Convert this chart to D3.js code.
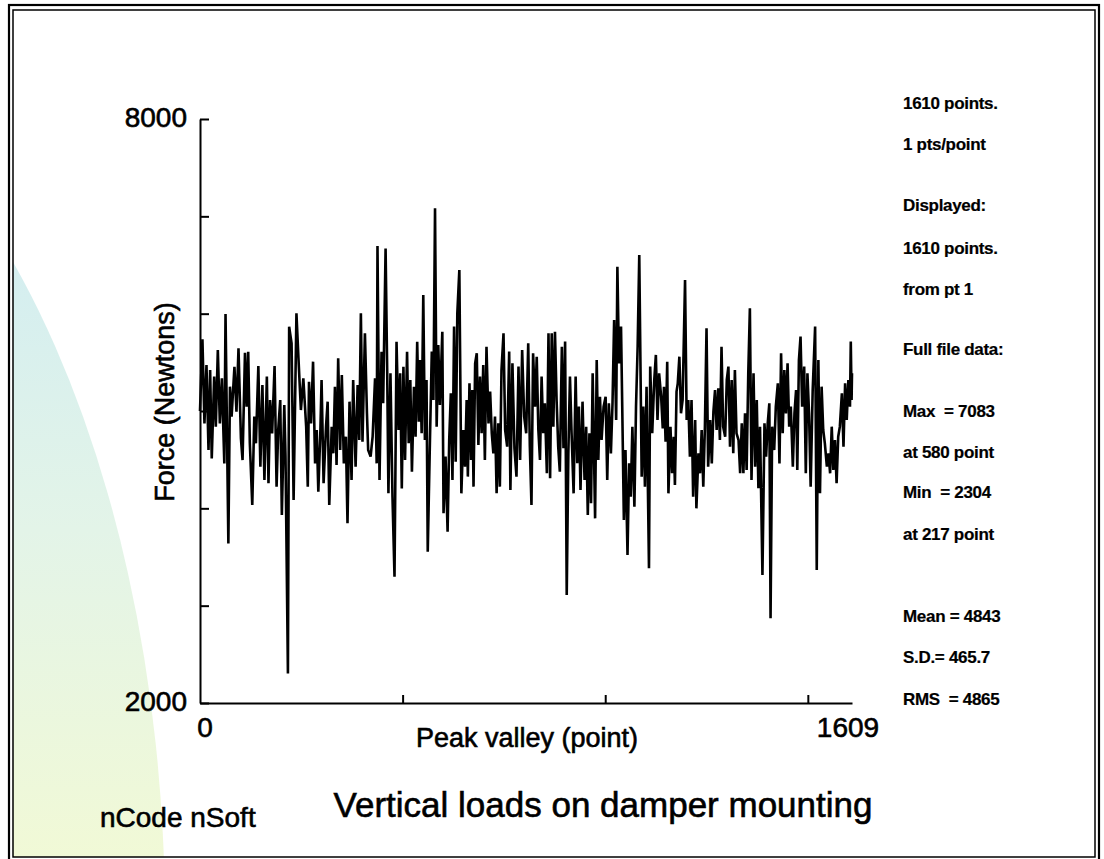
<!DOCTYPE html>
<html>
<head>
<meta charset="UTF-8">
<title>Vertical loads on damper mounting</title>
<script src="https://d3js.org/d3.v7.min.js"></script>
<style>
    body { margin: 0; background: #fff; }
    svg text { font-family: "Liberation Sans", Arial, sans-serif; fill: #000; stroke: #000; stroke-width: 0.6px; }
    .axis path, .axis line { fill: none; stroke: #000; stroke-width: 2; }
    .info text { font-size: 17px; font-weight: bold; letter-spacing: -0.3px; white-space: pre; stroke-width: 0.2px; }
</style>
</head>
<body>
<script>
// peak-valley turning points: point number and force (N)
var pointNo = [0, 6, 11, 16, 21, 25, 29, 35, 39, 44, 49, 54, 60, 63, 70, 74, 78, 85, 90, 95,
    101, 105, 111, 115, 119, 123, 129, 134, 138, 144, 149, 154, 159, 165, 169, 173, 178, 184, 189, 193,
    198, 202, 208, 211, 217, 220, 226, 231, 238, 243, 249, 255, 262, 266, 269, 274, 279, 284, 288, 292,
    297, 300, 305, 311, 315, 319, 325, 329, 333, 337, 341, 346, 350, 355, 360, 364, 369, 374, 378, 384,
    389, 393, 397, 401, 407, 412, 415, 421, 426, 432, 436, 438, 443, 448, 452, 458, 462, 465, 470, 475,
    480, 485, 490, 494, 498, 502, 506, 511, 515, 519, 523, 528, 532, 536, 540, 543, 547, 551, 555, 559,
    562, 568, 572, 576, 580, 584, 588, 592, 598, 601, 606, 611, 615, 619, 623, 627, 631, 635, 640, 645,
    650, 654, 658, 661, 665, 669, 672, 675, 679, 683, 687, 691, 695, 699, 703, 707, 712, 716, 720, 724,
    728, 732, 736, 740, 744, 749, 753, 758, 763, 766, 771, 776, 781, 786, 790, 795, 800, 805, 810, 814,
    818, 822, 827, 831, 835, 839, 843, 847, 851, 856, 860, 864, 868, 872, 876, 880, 884, 888, 893, 897,
    901, 905, 909, 913, 917, 922, 927, 931, 935, 939, 944, 949, 953, 957, 961, 965, 969, 975, 979, 983,
    987, 991, 996, 1001, 1005, 1009, 1014, 1018, 1022, 1027, 1030, 1034, 1039, 1042, 1046, 1050, 1055, 1059, 1063, 1067,
    1072, 1076, 1080, 1084, 1090, 1094, 1098, 1102, 1108, 1111, 1116, 1121, 1125, 1129, 1133, 1138, 1142, 1145, 1149, 1153,
    1156, 1161, 1165, 1169, 1172, 1176, 1179, 1183, 1187, 1191, 1197, 1201, 1205, 1209, 1213, 1217, 1222, 1225, 1230, 1234,
    1238, 1242, 1246, 1250, 1254, 1259, 1263, 1267, 1271, 1275, 1279, 1283, 1287, 1291, 1296, 1300, 1304, 1308, 1312, 1316,
    1320, 1324, 1329, 1333, 1337, 1341, 1345, 1349, 1353, 1357, 1361, 1366, 1370, 1374, 1378, 1382, 1388, 1393, 1397, 1401,
    1405, 1408, 1412, 1417, 1421, 1426, 1430, 1434, 1438, 1442, 1446, 1450, 1454, 1458, 1463, 1467, 1471, 1474, 1478, 1482,
    1486, 1491, 1495, 1499, 1503, 1507, 1512, 1518, 1522, 1526, 1530, 1534, 1538, 1542, 1547, 1551, 1555, 1559, 1563, 1567,
    1571, 1575, 1579, 1584, 1588, 1592, 1596, 1600, 1604, 1606, 1608, 1609];

var force = [5000, 5736, 4873, 5472, 4599, 5421, 4513, 5353, 4839, 5627, 4873, 5335, 4462, 5996, 3640, 5250, 4942, 5455, 4993, 5644,
    4719, 4496, 5599, 5044, 5609, 4668, 4034, 4942, 4668, 5462, 4428, 5267, 4291, 5353, 4257, 5113, 4770, 5462, 4222, 4805,
    5113, 3931, 5061, 4531, 2304, 5866, 5695, 4085, 6003, 5541, 5010, 5335, 4839, 4222, 5301, 4873, 5507, 4462, 4805, 4171,
    4787, 5318, 4257, 4839, 5096, 4034, 4839, 4565, 5250, 4445, 5541, 4599, 5370, 4462, 4736, 3846, 5096, 4291, 5318, 4428,
    5267, 4702, 6003, 4685, 5798, 4976, 4599, 4531, 4736, 5335, 4462, 6695, 4291, 5609, 5079, 6670, 5387, 4154, 5387, 4120,
    3298, 5712, 4805, 5387, 4205, 5455, 4496, 5609, 4668, 5318, 4377, 5250, 4736, 5712, 4890, 5524, 4771, 6192, 4702, 5319,
    3555, 4805, 5610, 5113, 7083, 4839, 5678, 5062, 5815, 3949, 4531, 3760, 4702, 5182, 4291, 5867, 4480, 6004, 6449, 4154,
    4805, 4428, 5113, 4326, 5284, 4497, 5216, 4223, 5490, 5593, 4651, 5353, 4771, 5473, 4497, 5661, 4873, 5199, 4771, 4565,
    4942, 4154, 4873, 4223, 5421, 5798, 4805, 4634, 5610, 4189, 5490, 4617, 4326, 5456, 4497, 5627, 4942, 4771, 5695, 4634,
    4034, 5593, 5045, 5558, 4805, 4497, 5353, 4771, 5079, 4360, 5798, 4308, 5798, 4839, 5815, 5113, 4634, 4377, 5661, 4617,
    5713, 3110, 4565, 5353, 4771, 4154, 5353, 4463, 5045, 4189, 5096, 4291, 4839, 3932, 4771, 4052, 5387, 3897, 5524, 4497,
    5147, 4702, 5045, 5147, 4291, 5079, 4565, 5079, 5935, 4908, 6483, 5490, 5867, 5045, 3880, 4600, 3521, 4463, 4120, 4839,
    4017, 5045, 5661, 6603, 4325, 5045, 4223, 5250, 3384, 5456, 4771, 5319, 5576, 4908, 5387, 5147, 4822, 5250, 4685, 5507,
    4154, 4839, 4360, 4736, 4240, 5199, 5284, 5558, 4976, 5113, 6346, 4908, 5113, 4531, 5113, 4120, 4908, 4000, 4565, 4360,
    4805, 4223, 4839, 5849, 4428, 4908, 4462, 4993, 5216, 4805, 5233, 4702, 5661, 4839, 4736, 5319, 5456, 4634, 5319, 4565,
    5421, 4771, 4702, 4360, 4873, 4360, 4976, 4394, 5387, 6055, 4291, 5387, 4428, 5113, 4206, 4839, 3315, 4873, 4531, 4873,
    5079, 2870, 4839, 4599, 5045, 5284, 4462, 5593, 4771, 5421, 4976, 5490, 4839, 5045, 4428, 4976, 5216, 4394, 5524, 5764,
    5045, 5456, 4360, 5387, 4976, 4223, 5216, 5867, 3367, 5524, 4154, 5250, 4805, 4668, 4428, 4565, 4360, 4839, 4394, 4702,
    4257, 4736, 4839, 5182, 4634, 5284, 4908, 5319, 5045, 5713, 5113, 5387];

var yTicks = [2000, 3000, 4000, 5000, 6000, 7000, 8000];
var yLabels = [2000, 8000];
var xTicks = [500, 1000, 1500];
var xLabels = [0, 1609];
var infoLines = ["1610 points.", "1 pts/point", "Displayed:", "1610 points.", "from pt 1",
    "Full file data:", "Max  = 7083", "at 580 point", "Min  = 2304", "at 217 point",
    "Mean = 4843", "S.D.= 465.7", "RMS  = 4865"];
var infoY = [109, 150, 211, 254, 295, 355, 417, 458, 498, 540, 622, 663, 705];

var width = 1104, height = 859;

var svg = d3.select("body").append("svg")
    .attr("width", width)
    .attr("height", height);

// soft backdrop at left
var defs = svg.append("defs");
var grad = defs.append("linearGradient")
    .attr("id", "bg").attr("gradientUnits", "userSpaceOnUse")
    .attr("x1", 0).attr("y1", 260).attr("x2", 0).attr("y2", 859);
grad.append("stop").attr("offset", "0%").attr("stop-color", "#d4eef0");
grad.append("stop").attr("offset", "45%").attr("stop-color", "#e3f4e8");
grad.append("stop").attr("offset", "100%").attr("stop-color", "#f1f9d6");
defs.append("clipPath").attr("id", "frame")
    .append("rect").attr("x", 13).attr("y", 10).attr("width", 1082).attr("height", 847);

svg.append("ellipse")
    .attr("clip-path", "url(#frame)")
    .attr("cx", -320).attr("cy", 920).attr("rx", 485).attr("ry", 905)
    .attr("fill", "url(#bg)");

// frame
svg.append("rect").attr("x", 9).attr("y", 5).attr("width", 1090).attr("height", 880)
    .attr("fill", "none").attr("stroke", "#000").attr("stroke-width", 2.2);
svg.append("rect").attr("x", 13).attr("y", 10).attr("width", 1082).attr("height", 847)
    .attr("fill", "none").attr("stroke", "#000").attr("stroke-width", 1.5);

var x = d3.scaleLinear().domain([0, 1609]).range([200, 852]);
var y = d3.scaleLinear().domain([2000, 8000]).range([703, 119]);

// signal
var line = d3.line()
    .x(function (d, i) { return x(pointNo[i]); })
    .y(function (d) { return y(d); });

svg.append("path")
    .datum(force)
    .attr("d", line)
    .attr("fill", "none")
    .attr("stroke", "#000")
    .attr("stroke-width", 2.6)
    .attr("stroke-linejoin", "miter");

// axes
svg.append("g")
    .attr("class", "axis")
    .attr("transform", "translate(200,0)")
    .call(d3.axisRight(y).tickValues(yTicks).tickSize(9).tickSizeOuter(0).tickFormat(""));

svg.append("g")
    .attr("class", "axis")
    .attr("transform", "translate(0,703)")
    .call(d3.axisTop(x).tickValues(xTicks).tickSize(8).tickSizeOuter(0).tickFormat(""));

svg.selectAll(".ylab")
    .data(yLabels).enter().append("text")
    .attr("class", "ylab")
    .attr("x", 187)
    .attr("y", function (d) { return y(d) + 8; })
    .attr("text-anchor", "end")
    .style("font-size", "28px")
    .text(function (d) { return d; });

svg.selectAll(".xlab")
    .data(xLabels).enter().append("text")
    .attr("class", "xlab")
    .attr("x", function (d, i) { return x(d) + (i === 0 ? 5 : -4); })
    .attr("y", 737)
    .attr("text-anchor", "middle")
    .style("font-size", "28px")
    .text(function (d) { return d; });

svg.append("text")
    .attr("x", 527).attr("y", 747)
    .attr("text-anchor", "middle")
    .style("font-size", "27px")
    .text("Peak valley (point)");

svg.append("text")
    .attr("transform", "translate(174,402) rotate(-90)")
    .attr("text-anchor", "middle")
    .style("font-size", "27px")
    .text("Force (Newtons)");

svg.append("text")
    .attr("x", 603).attr("y", 817)
    .attr("text-anchor", "middle")
    .style("font-size", "35px")
    .text("Vertical loads on damper mounting");

svg.append("text")
    .attr("x", 100).attr("y", 827)
    .style("font-size", "28px")
    .text("nCode nSoft");

// statistics block
svg.append("g").attr("class", "info")
    .selectAll("text")
    .data(infoLines).enter().append("text")
    .attr("x", 903)
    .attr("y", function (d, i) { return infoY[i]; })
    .text(function (d) { return d; });
</script>
</body>
</html>
